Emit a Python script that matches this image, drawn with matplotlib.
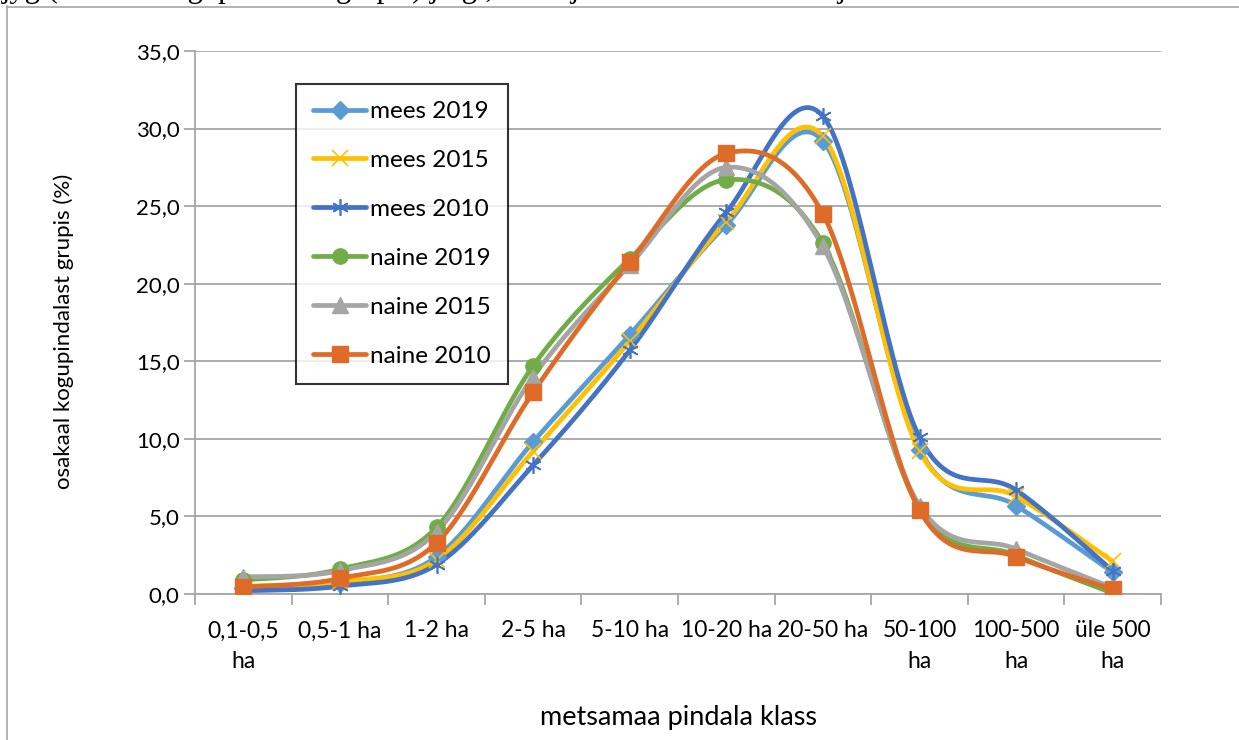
import matplotlib.pyplot as plt
import numpy as np
from matplotlib.lines import Line2D

plt.rcParams['font.family'] = ['Lato', 'DejaVu Sans']

categories = ['0,1-0,5\nha', '0,5-1 ha', '1-2 ha', '2-5 ha', '5-10 ha', '10-20 ha',
              '20-50 ha', '50-100\nha', '100-500\nha', 'üle 500\nha']

mees_2019 = [0.4, 0.7, 2.4, 9.8, 16.7, 23.8, 29.2, 9.3, 5.7, 1.4]
mees_2015 = [0.5, 0.8, 2.2, 9.2, 16.3, 24.0, 29.5, 9.2, 6.3, 2.1]
mees_2010 = [0.2, 0.5, 1.9, 8.3, 15.7, 24.6, 30.8, 10.1, 6.7, 1.5]
naine_2019 = [0.9, 1.6, 4.3, 14.7, 21.6, 26.7, 22.6, 5.5, 2.5, 0.05]
naine_2015 = [1.1, 1.5, 4.0, 14.0, 21.2, 27.5, 22.4, 5.7, 2.9, 0.4]
naine_2010 = [0.45, 1.0, 3.3, 13.0, 21.4, 28.4, 24.5, 5.4, 2.4, 0.3]

series = [
    ('mees 2019', mees_2019, '#5B9BD5', 'D', 9, 1),
    ('mees 2015', mees_2015, '#FFC000', 'x', 11, 1.2),
    ('mees 2010', mees_2010, '#4472C4', (6, 2, 0), 12, 1.2),
    ('naine 2019', naine_2019, '#70AD47', 'o', 11, 1),
    ('naine 2015', naine_2015, '#A5A5A5', '^', 11, 1),
    ('naine 2010', naine_2010, '#DE6B28', 's', 12, 1),
]


# smooth line like Excel (catmull-rom bezier between points)
def smooth(x, y, n=30):
    x = np.asarray(x, float)
    y = np.asarray(y, float)
    px = np.concatenate([[x[0]], x, [x[-1]]])
    py = np.concatenate([[y[0]], y, [y[-1]]])
    xs, ys = [], []
    t = np.linspace(0, 1, n)
    for i in range(1, len(px) - 2):
        p0 = np.array([px[i], py[i]])
        p3 = np.array([px[i + 1], py[i + 1]])
        c1 = p0 + (np.array([px[i + 1], py[i + 1]]) - np.array([px[i - 1], py[i - 1]])) / 6
        c2 = p3 - (np.array([px[i + 2], py[i + 2]]) - np.array([px[i], py[i]])) / 6
        b = ((1 - t) ** 3)[:, None] * p0 + (3 * (1 - t) ** 2 * t)[:, None] * c1 \
            + (3 * (1 - t) * t ** 2)[:, None] * c2 + (t ** 3)[:, None] * p3
        xs.extend(b[:, 0])
        ys.extend(b[:, 1])
    return np.array(xs), np.array(ys)


fig = plt.figure(figsize=(12.39, 7.40), dpi=100)
ax = fig.add_axes([195 / 1239, 1 - 594 / 740, (1161 - 195) / 1239, (594 - 51) / 740])

x = np.arange(len(categories))
handles = []
for label, vals, color, marker, ms, mew in series:
    sx, sy = smooth(x, vals)
    ax.plot(sx, sy, color=color, lw=3.4, solid_capstyle='round', zorder=2)
    ax.plot(x, vals, ls='none', marker=marker, ms=ms, color=color,
            mec=color, mew=mew, zorder=3)
    handles.append(Line2D([0], [0], color=color, lw=3.4, marker=marker, ms=ms,
                          mec=color, mew=mew, solid_capstyle='round'))

ax.set_xlim(-0.5, len(categories) - 0.5)
ax.set_ylim(0, 35)
ax.set_yticks(np.arange(0, 36, 5))
ax.set_yticklabels([f'{v:.1f}'.replace('.', ',') for v in np.arange(0, 36, 5)])
ax.set_xticks(x)
ax.set_xticklabels(categories, fontsize=16.5, linespacing=1.55)
ax.set_xticks(np.arange(-0.5, len(categories)), minor=True)
ax.tick_params(axis='x', which='major', length=0, pad=19)
ax.tick_params(axis='x', which='minor', length=8, color='#A6A6A6', width=1.3)
ax.tick_params(axis='y', length=8, color='#A6A6A6', width=1.3, labelsize=16, pad=3)
ax.grid(axis='y', color='#A6A6A6', lw=1.3)
ax.set_axisbelow(True)
for s in ['top', 'right']:
    ax.spines[s].set_visible(False)
for s in ['left', 'bottom']:
    ax.spines[s].set_color('#A6A6A6')
    ax.spines[s].set_linewidth(1.3)

ax.set_xlabel('metsamaa pindala klass', fontsize=19.5, labelpad=24)
ax.set_ylabel('osakaal kogupindalast grupis (%)', fontsize=16)
ax.yaxis.set_label_coords(-0.125, 0.483)

leg = fig.legend(handles, [s[0] for s in series], loc='upper left',
                 bbox_to_anchor=(296 / 1239, 1 - 84 / 740), fontsize=17.5,
                 frameon=True, fancybox=False, edgecolor='black', handlelength=2.2,
                 handletextpad=0.15, labelspacing=1.15, borderpad=0.7, borderaxespad=0)
leg.get_frame().set_linewidth(1.5)

# chart border and cut text from the document above
fig.add_artist(Line2D([7 / 1239, 7 / 1239], [0, 1 - 6 / 740], color='#A6A6A6', lw=1.2))
fig.add_artist(Line2D([7 / 1239, 1], [1 - 7 / 740, 1 - 7 / 740], color='#A6A6A6', lw=1.2))
fig.text(2 / 1239, 1 + 3 / 740, 'jyg (osakaal kogupindalast grupis) järgi, mees ja naine maaomanike jaotus',
         family='Liberation Serif', fontsize=22, va='baseline')

fig.savefig('out.png', dpi=100)
